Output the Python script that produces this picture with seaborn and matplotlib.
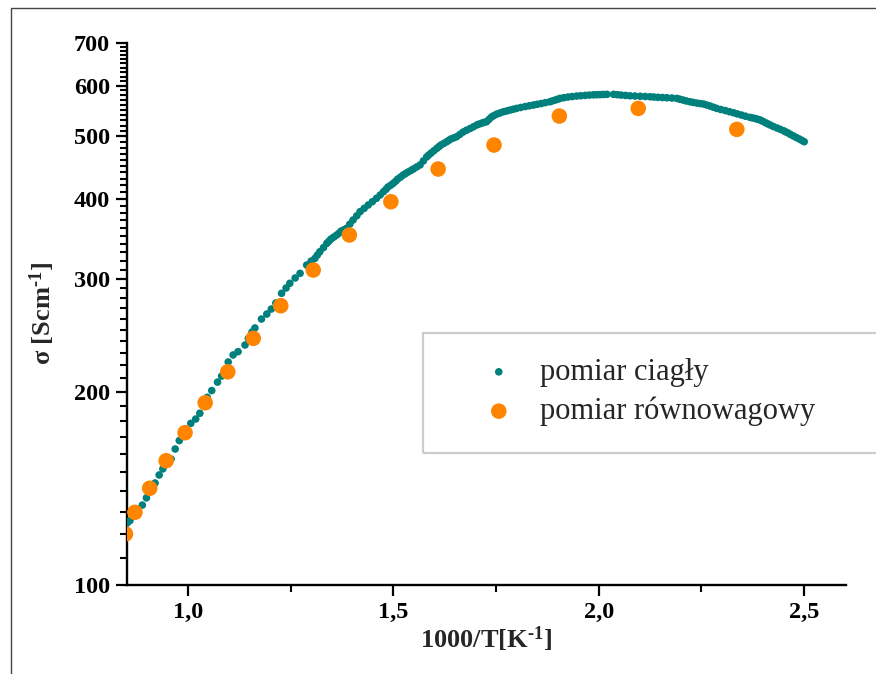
import matplotlib
matplotlib.use("Agg")
import matplotlib.pyplot as plt
import matplotlib.ticker as mticker
from matplotlib.patches import Rectangle
import seaborn as sns
import pandas as pd

# ---------------- data ----------------
ciagly_x = [0.852, 0.859, 0.873, 0.889, 0.899, 0.910, 0.920, 0.930, 0.939, 0.949,
            0.959, 0.969, 0.979, 0.993, 1.007, 1.019, 1.029, 1.039, 1.047, 1.058,
            1.072, 1.082, 1.090, 1.098, 1.110, 1.122, 1.139, 1.147, 1.156, 1.163,
            1.179, 1.192, 1.203, 1.214, 1.228, 1.239, 1.248, 1.261, 1.273, 1.289,
            1.300, 1.309, 1.315, 1.321, 1.330, 1.338, 1.343, 1.348, 1.355, 1.362,
            1.368, 1.373, 1.380, 1.386, 1.394, 1.402, 1.411, 1.419, 1.429, 1.439,
            1.449, 1.459, 1.468, 1.476, 1.482, 1.487, 1.494, 1.500, 1.506, 1.511,
            1.518, 1.524, 1.530, 1.536, 1.543, 1.549, 1.557, 1.565, 1.573, 1.581,
            1.586, 1.592, 1.599, 1.606, 1.611, 1.616, 1.623, 1.630, 1.635, 1.640,
            1.647, 1.654, 1.662, 1.670, 1.678, 1.687, 1.695, 1.703, 1.709, 1.716,
            1.721, 1.727, 1.733, 1.739, 1.745, 1.752, 1.760, 1.768, 1.776, 1.784,
            1.792, 1.800, 1.810, 1.821, 1.831, 1.841, 1.850, 1.860, 1.870, 1.881,
            1.887, 1.894, 1.900, 1.906, 1.915, 1.925, 1.935, 1.946, 1.956, 1.967,
            1.977, 1.987, 1.995, 2.003, 2.011, 2.020,
            2.036, 2.045, 2.054, 2.065, 2.076, 2.088, 2.101, 2.113, 2.125, 2.134,
            2.144, 2.155, 2.166, 2.178, 2.190, 2.197, 2.205, 2.213, 2.222, 2.230,
            2.239, 2.247, 2.255, 2.263, 2.271, 2.279, 2.287, 2.297, 2.308, 2.318,
            2.328, 2.337, 2.347, 2.357, 2.368, 2.374, 2.381, 2.387, 2.393, 2.399,
            2.405, 2.411, 2.417, 2.425, 2.434, 2.442, 2.450, 2.455, 2.461, 2.467,
            2.474, 2.481, 2.488, 2.494, 2.500]
ciagly_y = [124.9, 126.0, 129.5, 133.2, 136.7, 140.6, 144.2, 148.4, 151.7, 155.4,
            157.1, 162.9, 167.9, 173.1, 178.6, 181.4, 185.2, 190.7, 196.1, 200.9,
            207.1, 211.6, 216.3, 222.6, 228.3, 231.0, 236.6, 242.3, 247.9, 251.5,
            259.7, 264.4, 269.2, 275.0, 284.8, 290.3, 295.2, 300.9, 306.0, 315.2,
            319.7, 322.8, 326.7, 330.6, 335.6, 340.7, 343.3, 346.0, 348.5, 351.0,
            353.5, 356.1, 357.8, 359.6, 365.0, 370.5, 376.1, 381.7, 386.3, 391.0,
            395.7, 400.5, 405.3, 410.1, 413.6, 417.1, 419.9, 422.7, 426.0, 429.3,
            432.4, 435.5, 437.8, 440.2, 442.6, 445.0, 448.2, 451.4, 458.0, 464.5,
            467.8, 471.2, 475.2, 479.2, 482.1, 485.0, 487.8, 490.7, 493.1, 495.5,
            497.5, 499.6, 503.8, 508.1, 511.3, 514.5, 517.7, 521.0, 522.8, 524.7,
            526.0, 527.2, 531.7, 536.2, 539.0, 541.9, 544.1, 546.4, 548.0, 549.7,
            551.3, 553.0, 554.8, 556.7, 558.2, 559.7, 561.2, 562.7, 564.5, 566.3,
            568.0, 569.8, 571.5, 573.2, 574.6, 576.0, 577.0, 578.0, 578.7, 579.4,
            580.0, 580.6, 580.8, 581.0, 581.3, 581.6,
            581.6, 580.9, 580.1, 579.3, 578.6, 578.1, 577.6, 577.1, 576.6, 576.0,
            575.4, 575.0, 574.5, 573.9, 573.2, 571.5, 569.8, 568.0, 566.3, 565.0,
            563.6, 562.6, 561.7, 559.7, 557.7, 555.3, 553.0, 550.8, 548.7, 546.5,
            544.4, 542.2, 540.0, 537.7, 535.5, 534.4, 533.3, 531.8, 530.4, 528.0,
            525.6, 523.3, 521.0, 518.2, 515.4, 512.9, 510.4, 508.3, 506.2, 503.5,
            500.8, 498.1, 495.5, 493.1, 490.7]

rown_x = [0.848, 0.871, 0.907, 0.947, 0.993, 1.042, 1.097, 1.159, 1.226, 1.305,
          1.393, 1.494, 1.609, 1.745, 1.904, 2.096, 2.336]
rown_y = [120.1, 129.8, 141.5, 156.2, 172.7, 192.3, 214.9, 242.3, 272.4, 309.6,
          351.1, 395.6, 444.9, 484.9, 538.0, 553.0, 512.9]

x_major = [1.0, 1.5, 2.0, 2.5]
x_major_labels = ["1,0", "1,5", "2,0", "2,5"]
x_minor = [0.75, 1.25, 1.75, 2.25]
y_major = [100, 200, 300, 400, 500, 600, 700]
y_major_labels = ["100", "200", "300", "400", "500", "600", "700"]
y_minor = [110, 120, 130, 140, 150, 160, 170, 180, 190,
           210, 220, 230, 240, 250, 260, 270, 280, 290,
           310, 320, 330, 340, 350, 360, 370, 380, 390,
           410, 420, 430, 440, 450, 460, 470, 480, 490,
           510, 520, 530, 540, 550, 560, 570, 580, 590,
           610, 620, 630, 640, 650, 660, 670, 680, 690]

label_ciagly = "pomiar ciagły"
label_rown = "pomiar równowagowy"
xlabel = "1000/T[K$^{\u20101}$]"
ylabel = "σ [Scm$^{\u20101}$]"

teal = "#00807c"
orange = "#ff8500"

# ---------------- style ----------------
sns.set_style("white")
plt.rcParams["font.family"] = ["Liberation Serif", "DejaVu Serif"]
plt.rcParams["mathtext.default"] = "regular"

fig = plt.figure(figsize=(8.76, 6.74), dpi=100)
ax = fig.add_axes([126.7 / 876, 1 - 585 / 674, (845.7 - 126.7) / 876, (585 - 42.7) / 674])

df_c = pd.DataFrame({"x": ciagly_x, "y": ciagly_y})
df_r = pd.DataFrame({"x": rown_x, "y": rown_y})

sns.scatterplot(data=df_c, x="x", y="y", ax=ax, s=30, color=teal, edgecolor="none",
                label=label_ciagly, zorder=3)
sns.scatterplot(data=df_r, x="x", y="y", ax=ax, s=125, color=orange, edgecolor="none",
                label=label_rown, zorder=4)

ax.set_yscale("log")
ax.set_xlim(0.851, 2.601)
ax.set_ylim(100, 700)

ax.xaxis.set_major_locator(mticker.FixedLocator(x_major))
ax.xaxis.set_major_formatter(mticker.FixedFormatter(x_major_labels))
ax.xaxis.set_minor_locator(mticker.FixedLocator(x_minor))
ax.xaxis.set_minor_formatter(mticker.NullFormatter())
ax.yaxis.set_major_locator(mticker.FixedLocator(y_major))
ax.yaxis.set_major_formatter(mticker.FixedFormatter(y_major_labels))
ax.yaxis.set_minor_locator(mticker.FixedLocator(y_minor))
ax.yaxis.set_minor_formatter(mticker.NullFormatter())

for side in ["top", "right"]:
    ax.spines[side].set_visible(False)
for side in ["left", "bottom"]:
    ax.spines[side].set_linewidth(1.7)
    ax.spines[side].set_color("black")

ax.tick_params(axis="both", which="major", direction="out", length=8, width=1.6,
               labelsize=17.5, pad=4, colors="black", bottom=True, left=True)
ax.tick_params(axis="both", which="minor", direction="out", length=5, width=1.5,
               colors="black", bottom=True, left=True)
for lab in ax.get_xticklabels() + ax.get_yticklabels():
    lab.set_fontweight("bold")

ax.set_xlabel(xlabel, fontsize=19, fontweight="bold", labelpad=1)
ax.set_ylabel(ylabel, fontsize=19, fontweight="bold", labelpad=12)

# legend
handles, labels = ax.get_legend_handles_labels()
ax.legend(handles, labels, loc="center left", bbox_to_anchor=(483.5 / 876, 1 - 392 / 674),
          bbox_transform=fig.transFigure, frameon=False, fontsize=22, borderpad=0,
          handlelength=1.0, handletextpad=0.84, labelspacing=0.32, borderaxespad=0)

fig.patches.append(Rectangle((423 / 876, 1 - 453.3 / 674), 0.6, (453.3 - 332.7) / 674,
                             transform=fig.transFigure, fill=False, edgecolor="#cccccc",
                             linewidth=1.6, zorder=0))
# outer frame
fig.patches.append(Rectangle((11 / 876, -0.1), 1.2, 1 - 8 / 674 + 0.1,
                             transform=fig.transFigure, fill=False, edgecolor="#444444",
                             linewidth=1.0, zorder=0))

fig.savefig("out.png", dpi=100, facecolor="white")
